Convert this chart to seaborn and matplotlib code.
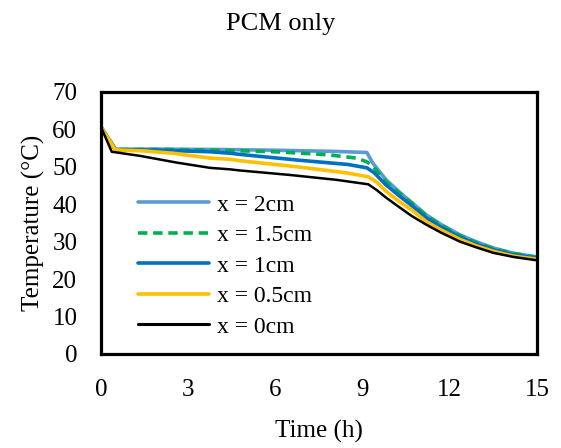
import matplotlib
matplotlib.use('Agg')
import pandas as pd
import seaborn as sns
from matplotlib import pyplot as plt

# Data (time in h, temperature in degC)
t_2cm = [0, 0.5, 2, 4, 6, 8, 9.15, 9.35, 9.8, 10.3, 10.7, 11.2, 11.7, 12.35, 12.9, 13.5, 14.2, 15]
T_2cm = [60.6, 54.7, 54.7, 54.6, 54.4, 54.1, 53.8, 51.0, 46.6, 43.0, 40.4, 37.1, 34.6, 31.8, 30.0, 28.3, 26.9, 25.9]

t_15cm = [0, 0.5, 2, 4, 6, 7.8, 8.8, 9.15, 9.35, 9.8, 10.3, 10.7, 11.2, 11.7, 12.35, 12.9, 13.5, 14.2, 15]
T_15cm = [60.6, 54.6, 54.6, 54.4, 54.0, 53.2, 52.3, 51.3, 50.2, 46.0, 42.8, 40.2, 36.9, 34.4, 31.6, 29.8, 28.1, 26.8, 25.8]

t_1cm = [0, 0.5, 2, 3.75, 4.44, 4.78, 6.73, 8.5, 9.15, 9.4, 9.8, 10.3, 10.7, 11.2, 11.7, 12.35, 12.9, 13.5, 14.2, 15]
T_1cm = [60.6, 54.5, 54.4, 54.0, 53.6, 53.3, 51.8, 50.6, 49.7, 48.4, 45.2, 42.0, 39.6, 36.3, 33.9, 31.2, 29.4, 27.8, 26.5, 25.6]

t_05cm = [0, 0.5, 1.5, 2.48, 3.75, 4.44, 4.78, 6.73, 8.5, 9.2, 9.5, 9.8, 10.3, 10.7, 11.2, 11.7, 12.35, 12.9, 13.5, 14.2, 15]
T_05cm = [60.6, 54.5, 54.2, 53.6, 52.3, 52.0, 51.6, 50.0, 48.3, 47.3, 45.8, 43.5, 40.5, 38.4, 35.3, 33.1, 30.6, 28.9, 27.4, 26.1, 25.3]

t_0cm = [0, 0.37, 1.34, 2.61, 3.75, 4.44, 4.78, 6.5, 8.1, 9.2, 9.5, 9.8, 10.3, 10.7, 11.2, 11.7, 12.35, 12.9, 13.5, 14.2, 15]
T_0cm = [60.6, 54.0, 52.9, 51.1, 49.7, 49.3, 49.0, 47.8, 46.5, 45.3, 43.7, 41.8, 39.0, 36.8, 34.5, 32.4, 30.0, 28.5, 27.0, 25.9, 25.0]

labels = ['x = 2cm', 'x = 1.5cm', 'x = 1cm', 'x = 0.5cm', 'x = 0cm']
colors = ['#5B9BD5', '#00B050', '#0070C0', '#FFC000', '#000000']
x_ticks = [0, 3, 6, 9, 12, 15]
y_ticks = [0, 10, 20, 30, 40, 50, 60, 70]

series = [(t_2cm, T_2cm), (t_15cm, T_15cm), (t_1cm, T_1cm), (t_05cm, T_05cm), (t_0cm, T_0cm)]

sns.set_theme(style='white')
plt.rcParams['font.family'] = ['Liberation Serif', 'DejaVu Serif']
plt.rcParams['text.color'] = 'black'
plt.rcParams['axes.labelcolor'] = 'black'
plt.rcParams['xtick.color'] = 'black'
plt.rcParams['ytick.color'] = 'black'

fig = plt.figure(figsize=(5.61, 4.48), dpi=100)
ax = fig.add_axes([0.180, 0.210, 0.777, 0.585])

for (tt, TT), lab, col in zip(series, labels, colors):
    df = pd.DataFrame({'Time': tt, 'Temp': TT})
    lw = 1.8 if lab == 'x = 0cm' else 2.6
    sns.lineplot(data=df, x='Time', y='Temp', ax=ax, color=col, lw=lw, label=lab)

# dashed green line (x = 1.5cm)
ax.lines[1].set_dashes((2.6, 1.6))

ax.set_xlim(0, 15)
ax.set_ylim(0, 70)
ax.set_xticks(x_ticks)
ax.set_yticks(y_ticks)
ax.tick_params(axis='both', length=0, labelsize=18, colors='black')
ax.tick_params(axis='x', pad=18)
ax.tick_params(axis='y', pad=17)
for s in ax.spines.values():
    s.set_color('black')
    s.set_linewidth(2.3)
ax.grid(False)

ax.set_xlabel('Time (h)', fontsize=18, color='black', labelpad=14)
ax.set_ylabel('Temperature (°C)', fontsize=18, color='black', labelpad=5)
fig.suptitle('PCM only', fontsize=19, y=0.97, x=0.5, color='black')

leg = ax.legend(loc='upper left', bbox_to_anchor=(0.085, 0.61), frameon=False,
                fontsize=17, handlelength=3.0, handletextpad=0.33, labelspacing=0.38,
                borderpad=0, borderaxespad=0)
for h in leg.get_lines():
    h.set_linewidth(2.6 if h.get_label() != 'x = 0cm' else 2.2)

fig.savefig('out.png', dpi=100)
